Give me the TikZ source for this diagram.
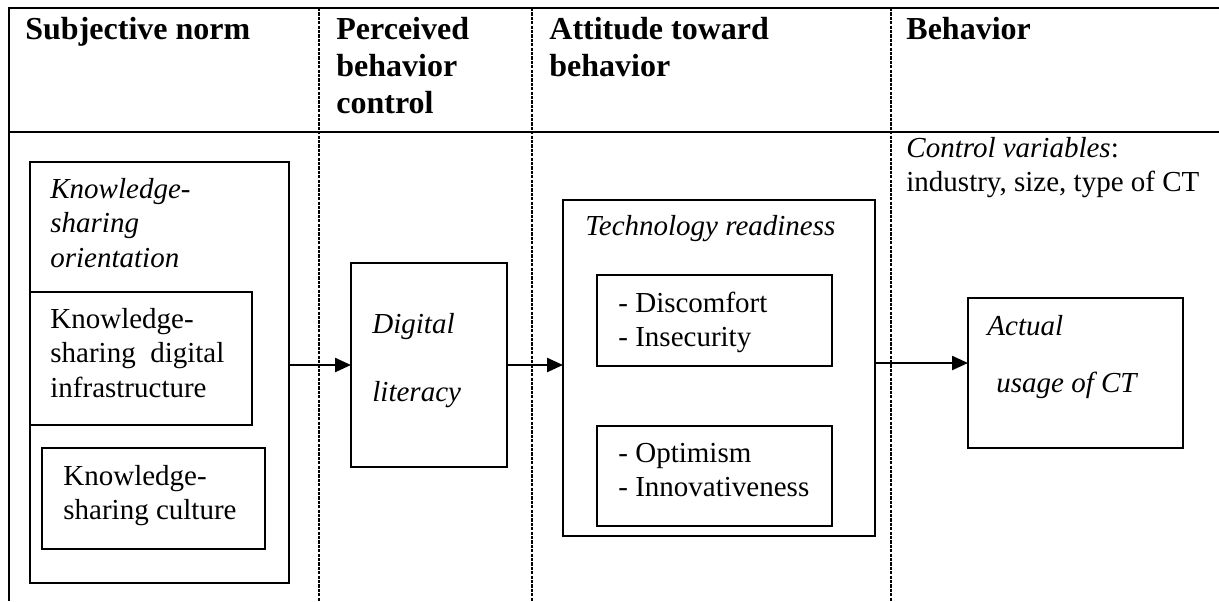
\documentclass[tikz,border=0pt]{standalone}
\usepackage{fontspec}
\setmainfont{Liberation Serif}
\usetikzlibrary{arrows.meta}
% multi-line text whose reference point is the first baseline
\newcommand{\txtlines}[1]{\parbox[t]{12cm}{\raggedright #1}}

\begin{document}
\begin{tikzpicture}[x=0.5pt,y=-0.5pt,
  rule/.style={line width=1.4pt},
  coldiv/.style={line width=0.8pt, dash pattern=on 1.6pt off 0.6pt},
  box/.style={draw, line width=0.9pt, inner sep=0pt, outer sep=0pt, anchor=north west},
  head/.style={anchor=base west, inner sep=0pt, font=\fontsize{16}{18.5}\selectfont\bfseries},
  body/.style={anchor=base west, inner sep=0pt, font=\fontsize{14.5}{17.25}\selectfont},
  arr/.style={line width=1.2pt, -{Triangle[length=8pt,width=7pt]}}]
\useasboundingbox (0,0) rectangle (1219,601);
\fill[white] (0,0) rectangle (1219,601);

% table frame and column dividers
\draw[rule] (8,8) -- (1219,8);
\draw[rule] (8,132) -- (1219,132);
\draw[rule] (9,7.3) -- (9,601);
\draw[coldiv] (319,8) -- (319,601);
\draw[coldiv] (532,8) -- (532,601);
\draw[coldiv] (891,8) -- (891,601);

% column headings
\node[head] (h1) at (25,39)  {\txtlines{Subjective norm}};
\node[head] (h2) at (336,39) {\txtlines{Perceived\\behavior\\control}};
\node[head] (h3) at (549,39) {\txtlines{Attitude toward\\behavior}};
\node[head] (h4) at (906,39) {\txtlines{Behavior}};

% subjective norm
\node[box, minimum width=129.5pt, minimum height=210.5pt] (kso) at (30,162) {};
\node[box, fill=white, minimum width=111pt, minimum height=66.5pt] (ksdi) at (30,292) {};
\node[box, minimum width=111.5pt, minimum height=50.5pt] (ksc) at (42,448) {};
\node[body] (ksoT) at (50,198) {\txtlines{\itshape Knowledge-\\sharing\\orientation}};
\node[body] (ksdiT) at (50,328) {\txtlines{Knowledge-\\sharing~ digital\\infrastructure}};
\node[body] (kscT) at (63,485) {\txtlines{Knowledge-\\sharing culture}};

% perceived behavior control
\node[box, minimum width=78pt, minimum height=102pt] (dl) at (351,263) {};
\node[body] (dlT) at (372,333) {\txtlines{\itshape Digital\\[17pt]literacy}};

% attitude toward behavior
\node[box, minimum width=156pt, minimum height=168pt] (tech) at (563,200) {};
\node[box, minimum width=117.5pt, minimum height=45.5pt] (disc) at (597,275) {};
\node[box, minimum width=117.5pt, minimum height=50pt] (opt) at (597,426) {};
\node[body] (techT) at (585,235) {\txtlines{\itshape Technology readiness}};
\node[body] (discT) at (618,312) {\txtlines{- Discomfort\\- Insecurity}};
\node[body] (optT) at (618,462) {\txtlines{- Optimism\\- Innovativeness}};

% behavior
\node[body] (ctrl) at (906,157) {\txtlines{\textit{Control variables}:\\industry, size, type of CT}};
\node[box, minimum width=107.5pt, minimum height=75pt] (act) at (968,298) {};
\node[body] (actT) at (987,335) {\txtlines{\itshape Actual\\[11.5pt]\hspace*{4.5pt}usage of CT}};

% causal chain
\draw[arr] (kso.east |- dl.west) -- (dl.west);
\draw[arr] (dl.east) -- (dl.east -| tech.west);
\draw[arr] ([yshift=2.5pt]tech.east) -- ([yshift=2.5pt]tech.east -| act.west);
\end{tikzpicture}
\end{document}
